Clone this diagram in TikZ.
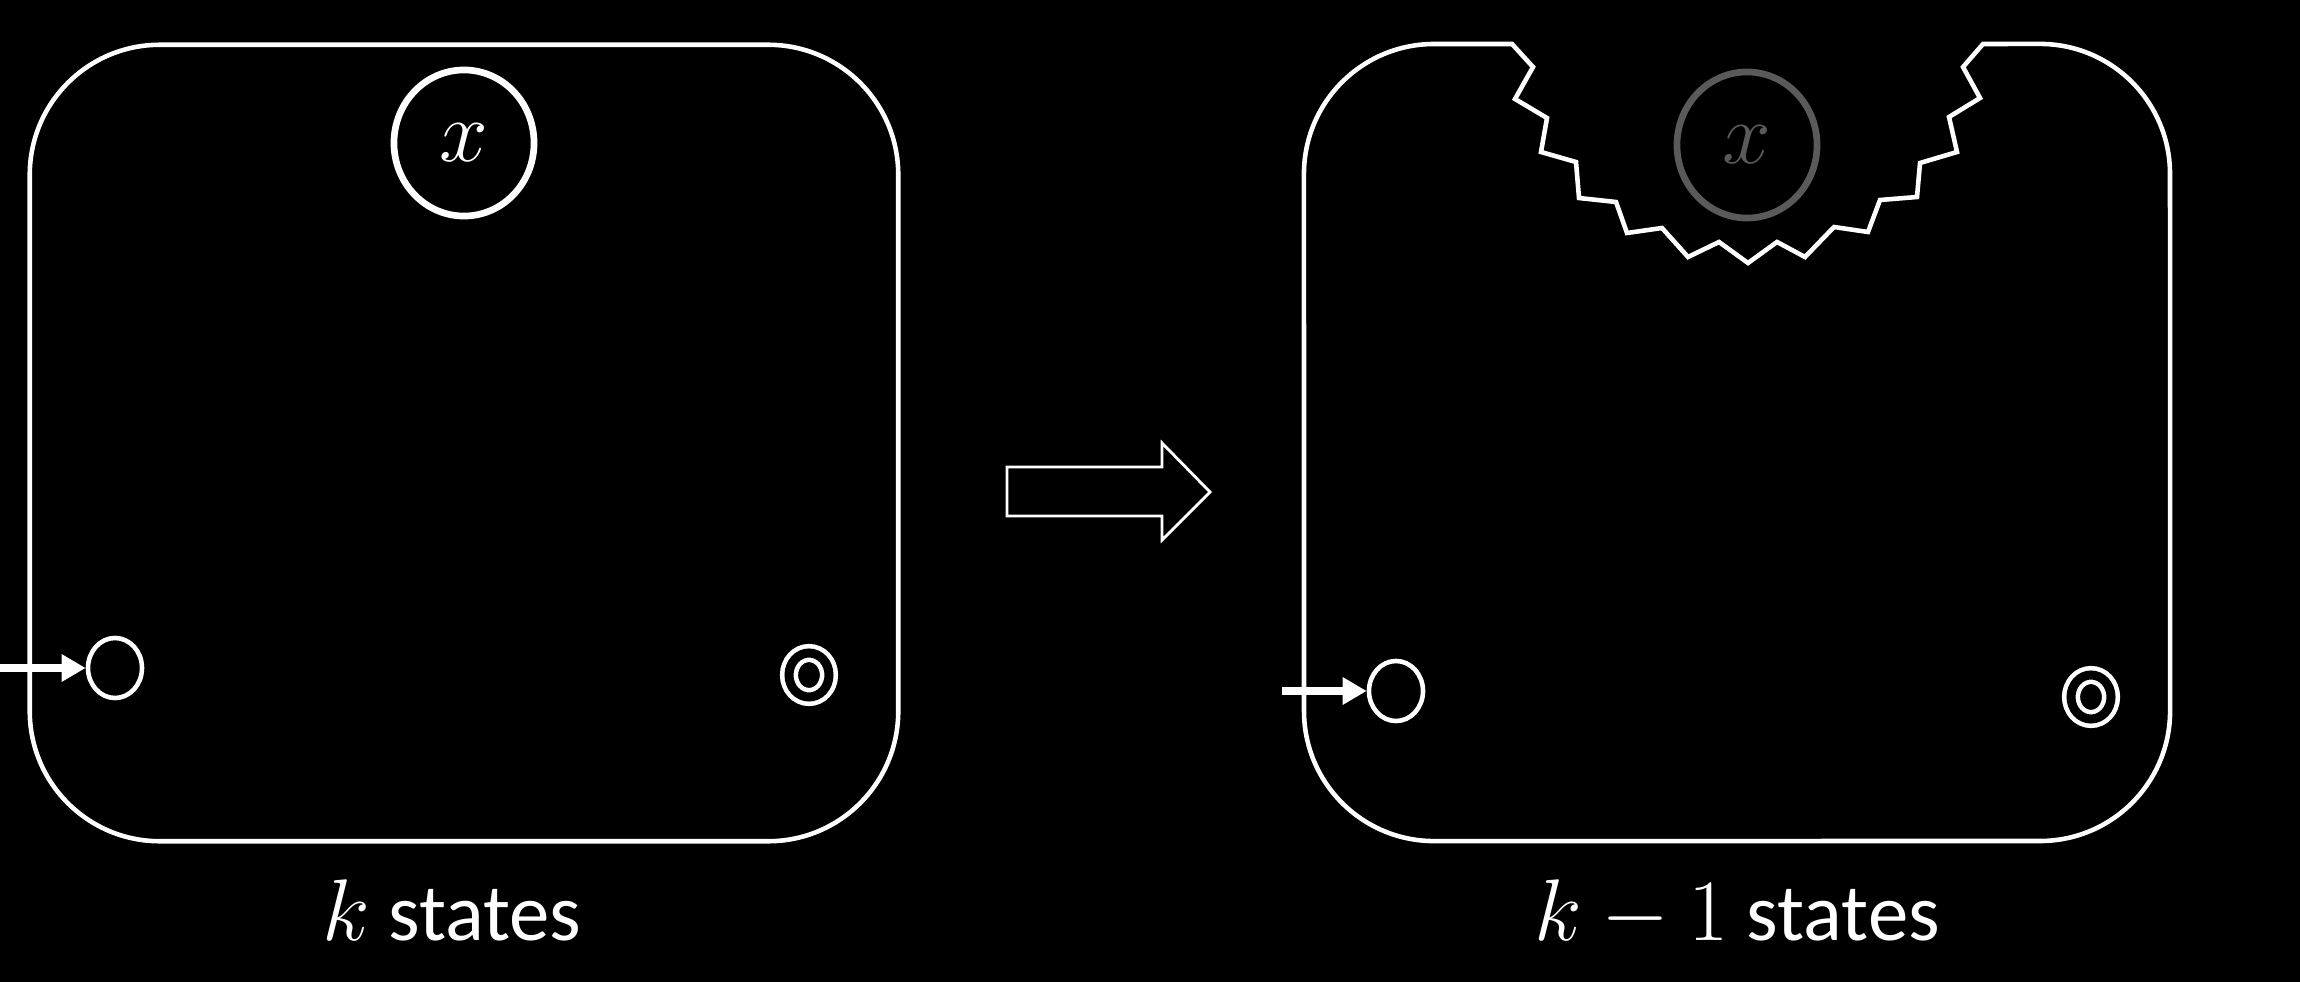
\documentclass[tikz,border=0pt]{standalone}
\usepackage{fontspec}
\setmainfont{Carlito}
\usepackage{tikz}
\usetikzlibrary{arrows.meta,shapes.geometric}
\definecolor{fadegray}{HTML}{5A5A5A}

\begin{document}
\begin{tikzpicture}[
  x=0.01cm, y=-0.01cm,
  line width=1.3pt,
  every node/.style={inner sep=0pt},
  box/.style={draw=white, rounded corners=1.3cm, minimum width=8.68cm,
              minimum height=7.96cm},
  state/.style={draw=white, ellipse, minimum width=0.54cm, minimum height=0.6cm},
  accept/.style={state, double=black, double distance=0.09cm,
                 minimum width=0.4cm, minimum height=0.44cm},
  removed/.style={draw=white, ellipse, line width=1.9pt, minimum width=1.4cm,
                  minimum height=1.46cm, font=\fontsize{25}{28}\selectfont},
  init/.style={-{Triangle[length=0.24cm, width=0.26cm]}, line width=2.2pt, white},
  label/.style={text=white, anchor=base, font=\fontsize{23}{26}\selectfont}
]
  \fill[black] (0,0) rectangle (2300,982);
  \useasboundingbox (0,0) rectangle (2300,982);

  % before: k states
  \node[box] (kbox) at (464,443) {};
  \node[removed, text=white] (xk) at (464,143) {$x$};
  \node[state] (startk) at (115,668) {};
  \node[accept] (endk) at (809,675) {};
  \coordinate (ink) at (0,668);
  \draw[init] (ink) -- (startk);
  \node[label] (lk) at (452,940) {$k$ states};

  % step
  \draw[white, line width=0.8pt] (1007,467) -- (1162,467) -- (1162,443) -- (1210,492)
    -- (1162,540) -- (1162,516) -- (1007,516) -- cycle;

  % after: k-1 states, top bitten out
  \draw[white] (1512,44) -- (1434,44) arc[start angle=90, end angle=180, radius=1.3cm]
    -- (1304,711) arc[start angle=180, end angle=270, radius=1.3cm]
    -- (2040,841) arc[start angle=270, end angle=360, radius=1.3cm]
    -- (2170,174) arc[start angle=0, end angle=90, radius=1.3cm]
    -- (1983,44)
    -- (1963,67) -- (1980,98) -- (1949,117) -- (1957,152) -- (1920,163)
    -- (1917,197) -- (1880,200) -- (1868,232) -- (1834,227) -- (1805,257)
    -- (1777,242) -- (1748,263) -- (1719,242) -- (1688,257) -- (1662,228)
    -- (1627,233) -- (1616,202) -- (1579,198) -- (1576,162) -- (1541,152)
    -- (1547,118) -- (1515,99) -- (1533,67) -- cycle;
  \node[removed, draw=fadegray, text=fadegray] (xj) at (1747,145) {$x$};
  \node[state] (startj) at (1396,691) {};
  \node[accept] (endj) at (2091,697) {};
  \coordinate (inj) at (1282,691);
  \draw[init] (inj) -- (startj);
  \node[label] (lj) at (1737,940) {$k-1$ states};
\end{tikzpicture}
\end{document}
